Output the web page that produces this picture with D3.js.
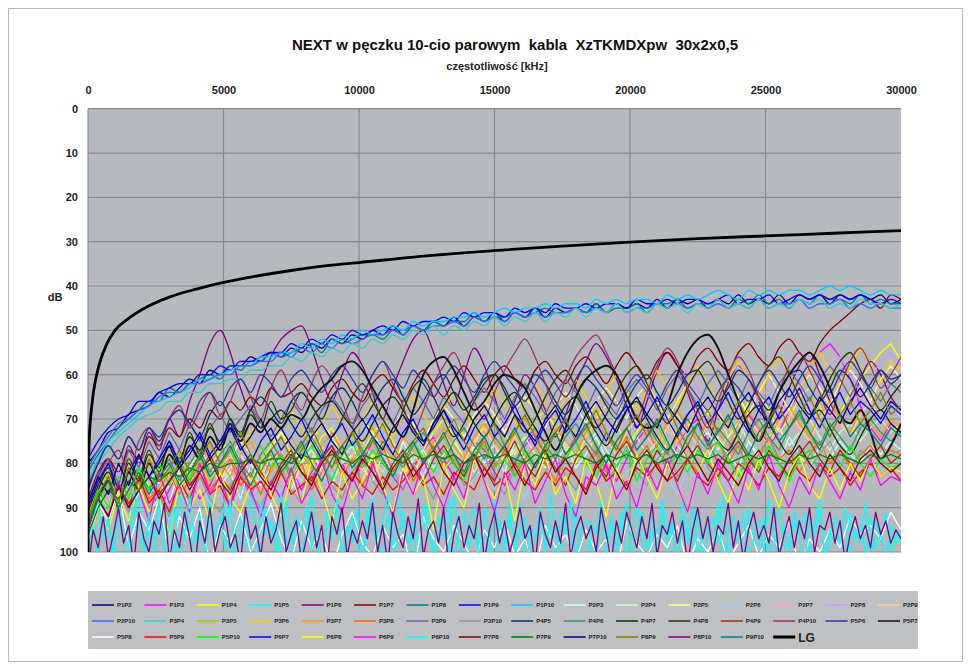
<!DOCTYPE html>
<html>
<head>
<meta charset="utf-8">
<script src="https://cdn.jsdelivr.net/npm/d3@7"></script>
<style>
  body { margin: 0; background: #fff; }
  svg { display: block; }
  text { font-family: "Liberation Sans", Arial, sans-serif; }
</style>
</head>
<body>
<svg id="chart" width="971" height="670"></svg>
<script>
// ---- axis ticks ----
const freqTicks = [0, 5000, 10000, 15000, 20000, 25000, 30000];
const dbTicks = [0, 10, 20, 30, 40, 50, 60, 70, 80, 90, 100];

// ---- measured NEXT (dB), each list sampled evenly over 0..30000 kHz ----
const P1P2  = [80,77,73,72,69,68,67,64,65,63,61,62,59,60,58,58,56,57,55,56,54,55,53,54,52,53,51,52,50,51,49,51,49,50,48,49,47,49,47,48,46,48,46,47,45,47,45,46,45,46,44,46,44,45,44,45,43,45,43,44,43,45,43,44,42,44,43,44,42,44,42,43,42,44,42,43,42,43,42,44,43];
const P1P3  = [96,90,86,91,88,83,85,90,86,81,84,88,85,80,78,83,87,84,79,77,81,86,82,78,76,80,84,80,75,78,83,86,81,77,74,79,83,79,75,77,82,85,80,76,73,78,82,78,74,72,76,81,84,79,75,72,77,81,76,72,70,75,80,77,73,69,72,76,73,68,64,59,55,53,56,61,67,72,75,71,73];
const P1P4  = [94,88,84,89,85,81,84,88,83,79,82,86,81,77,75,80,84,80,76,73,78,82,79,74,72,77,81,78,73,71,75,80,83,77,73,70,74,79,76,71,69,73,78,75,70,68,72,77,80,74,70,67,71,76,73,69,66,70,75,72,67,65,69,74,71,66,64,68,73,70,65,63,67,72,69,64,61,58,55,53,57];
const P1P5  = [98,91,102,87,95,100,89,97,104,92,86,99,94,103,88,96,91,101,85,97,93,105,90,98,87,100,94,89,103,96,91,99,86,95,102,90,97,93,104,88,98,92,101,95,87,99,106,91,96,89,102,94,98,90,105,93,88,97,101,92,99,86,95,103,91,98,94,89,104,96,92,100,87,97,105,93,90,99,95,102,88,96,101,92,98,89,104,94,97,91,100,87,95,103,92,99,90,97,106,93,96,88,101,94,99,91,104,95,89,98,102,92,97,90,100,94,105,88,96,99,91,103,95,92,98,87,101,96,93,104,90,97,99,92,102,95,89,98,105,93,96,91,100,94,88,103,97,92,99,90,101,95,98,89,104,93,97,91,100,96,98];
const P1P6  = [88,82,79,84,76,80,73,77,70,74,66,60,53,50,55,63,68,62,56,52,50,49,54,61,66,60,55,58,64,70,63,57,52,50,55,62,67,60,54,58,65,71,66,60,63,68,74,69,62,57,53,56,61,67,72,66,59,55,58,64,70,75,68,62,58,61,66,72,69,63,58,55,60,66,71,67,61,57,60,65,68];
const P1P7  = [89,83,79,82,77,79,74,76,72,74,70,72,68,70,66,68,65,67,63,65,64,62,65,67,63,61,64,66,62,60,63,66,62,59,62,65,61,58,61,64,60,58,61,63,59,57,60,62,58,56,59,62,58,55,58,61,57,55,58,60,56,54,57,59,55,53,56,58,54,52,55,57,53,50,48,46,44,43,45,42,43];
const P1P8  = [82,78,75,72,70,68,66,66,63,64,62,61,60,61,58,59,57,57,55,56,55,54,53,55,52,53,52,51,51,52,50,50,49,50,48,49,48,48,46,48,47,47,46,47,46,45,46,46,45,46,44,46,45,45,44,46,44,44,43,45,44,44,43,45,43,44,42,44,43,45,43,44,42,43,43,44,42,44,43,44,44];
const P1P9  = [79,75,72,70,69,66,66,64,63,62,62,60,60,58,59,57,57,56,55,55,53,54,52,53,51,52,50,51,50,49,50,48,49,48,48,47,48,46,47,46,46,47,45,46,45,46,44,45,45,44,45,44,44,45,43,44,44,43,44,43,43,44,43,42,44,43,43,42,44,43,42,43,42,43,42,43,42,43,44,43,44];
const P1P10 = [84,79,75,73,71,69,67,66,65,64,63,61,61,60,59,58,58,56,56,55,55,53,54,52,53,51,52,50,51,50,49,50,48,49,48,48,47,47,46,47,46,45,46,45,45,44,45,44,44,45,43,44,43,44,43,43,44,42,43,42,43,42,41,42,43,41,42,41,42,41,41,42,41,40,41,40,41,42,41,42,42];
const P2P3  = [95,88,92,85,90,82,87,84,89,81,86,83,79,85,82,88,80,84,78,83,86,80,77,82,85,79,76,81,84,78,82,75,80,83,77,81,79,84,76,80,78,82,75,79,83,77,80,76,81,78,74,79,82,76,80,77,81,75,78,82,76,79,74,78,81,75,79,77,80,74,78,81,76,79,75,78,80,76,78,75,77];
const P2P4  = [95,89,92,86,90,87,84,88,85,82,86,83,80,84,81,78,82,85,81,79,83,80,77,81,84,80,78,82,79,76,80,83,79,77,81,78,75,79,82,78,76,80,77,74,78,81,77,75,79,76,73,77,80,76,74,78,75,72,76,79,75,73,77,74,71,75,78,74,72,76,73,70,74,77,73,71,75,72,70,73,71];
const P2P5  = [93,87,90,84,88,82,85,80,83,86,81,77,80,84,79,75,78,82,77,73,76,80,75,71,74,78,73,70,73,77,72,68,71,75,70,67,70,74,69,66,69,73,68,65,68,72,67,64,67,71,66,63,66,70,65,62,66,70,66,62,65,69,64,61,65,69,64,60,64,68,63,60,63,67,62,59,62,66,61,58,61];
const P2P6  = [97,90,94,87,92,85,90,88,93,86,91,84,89,87,92,85,88,83,90,86,81,87,84,89,82,86,80,85,88,83,79,84,87,82,86,80,84,89,83,81,86,79,84,88,82,85,80,83,87,81,84,79,86,82,80,85,78,83,87,81,84,79,82,86,80,84,78,83,85,80,82,78,84,81,79,83,80,82,79,81,80];
const P2P7  = [92,86,89,83,87,81,84,88,83,79,82,86,81,78,81,85,80,77,80,84,79,76,79,83,78,75,78,82,77,74,77,81,76,73,76,80,75,72,75,79,74,71,74,78,73,76,79,74,71,74,78,73,70,73,77,72,69,72,76,71,68,71,75,70,67,70,74,69,66,69,73,68,65,68,72,67,64,67,71,66,68];
const P2P8  = [90,85,88,82,86,80,84,78,82,79,76,80,77,73,77,74,70,74,71,67,71,75,72,68,66,70,74,71,67,65,69,73,70,66,64,68,72,69,65,63,67,71,68,64,62,66,70,67,63,61,65,69,66,62,60,64,68,65,61,59,63,67,64,60,58,62,66,63,59,57,61,65,62,58,56,60,64,61,57,55,58];
const P2P9  = [94,88,92,86,90,84,88,85,82,86,83,80,84,81,78,82,79,76,80,77,81,84,79,76,80,83,78,75,79,82,77,74,78,81,76,73,77,80,75,72,76,79,74,77,80,75,72,76,79,74,71,75,78,73,70,74,77,72,69,73,76,71,68,72,75,70,73,76,71,68,72,75,70,67,71,74,69,66,70,73,71];
const P2P10 = [81,77,74,71,70,68,67,65,64,64,62,62,61,60,60,58,58,57,57,55,56,54,55,53,54,52,53,52,51,51,50,51,49,50,49,49,48,49,47,48,47,48,46,47,46,47,46,46,45,46,45,46,44,46,45,45,44,45,44,45,44,45,44,45,44,45,43,45,44,44,43,45,44,44,43,45,44,45,44,45,45];
const P3P4  = [83,80,77,74,72,70,69,68,66,66,64,64,62,62,61,61,59,59,58,58,56,57,55,56,54,55,53,54,52,53,51,52,50,51,49,51,49,50,48,49,47,49,47,48,46,48,46,47,45,47,45,46,44,46,45,46,44,45,44,46,44,45,43,45,44,45,43,45,44,45,43,44,43,45,44,45,43,44,44,45,44];
const P3P5  = [95,89,85,91,87,83,88,85,81,86,83,79,84,81,77,82,86,80,78,83,79,76,81,84,79,76,81,78,75,80,83,78,75,80,77,74,79,82,77,74,79,76,73,78,81,76,73,78,75,72,77,80,75,72,77,74,71,76,79,74,71,76,73,70,75,78,73,70,75,72,69,74,77,72,69,74,71,73,76,72,74];
const P3P6  = [91,86,82,87,80,84,78,82,76,80,77,74,78,75,72,76,73,70,74,71,68,72,76,71,67,71,75,70,66,70,74,69,65,69,73,68,64,68,72,67,63,67,71,66,62,66,70,65,61,65,69,64,60,64,68,63,59,63,67,62,58,62,66,61,57,61,65,60,56,60,64,59,55,59,63,58,54,58,62,57,59];
const P3P7  = [93,88,84,89,82,86,80,84,81,78,82,79,76,80,83,78,75,79,82,77,74,78,81,76,73,77,80,75,72,76,79,74,77,80,75,72,76,79,74,71,75,78,73,70,74,77,72,75,78,73,70,74,77,72,69,73,76,71,68,72,75,70,73,76,71,68,72,75,70,67,71,74,69,66,70,73,68,71,74,70,72];
const P3P8  = [95,88,92,85,90,83,88,86,82,87,84,80,86,83,79,85,82,87,81,78,84,80,86,82,77,83,79,85,81,76,82,78,84,80,76,81,78,83,79,75,81,77,83,79,76,80,84,78,75,80,77,82,78,74,79,76,81,77,74,79,82,77,75,80,76,81,78,74,79,77,82,78,75,80,77,81,78,76,79,77,78];
const P3P9  = [89,83,79,85,77,81,75,79,73,77,71,75,72,69,73,70,67,71,74,70,66,69,73,68,65,68,72,67,64,67,71,66,63,66,70,65,68,71,66,63,66,70,65,62,65,69,64,61,64,68,63,66,69,64,61,64,68,63,60,63,67,62,59,62,66,61,64,67,62,59,62,66,61,58,61,65,60,63,66,62,64];
const P3P10 = [96,89,93,86,91,84,90,87,92,85,89,83,88,91,85,82,87,90,84,81,86,89,83,80,85,88,82,79,84,87,81,86,80,84,88,82,79,85,83,78,84,87,81,79,85,82,77,83,86,80,78,84,81,76,82,85,79,77,83,80,75,81,84,78,76,82,79,74,80,83,77,81,78,75,80,82,77,79,76,78,77];
const P4P5  = [86,80,76,79,74,77,72,75,70,68,71,74,69,66,70,73,68,65,68,71,66,64,67,70,65,63,66,70,67,63,61,65,69,66,62,60,64,68,65,61,60,63,67,64,60,62,66,69,65,61,63,67,70,66,62,60,64,67,64,60,59,63,66,63,59,61,65,68,64,60,59,63,66,63,59,61,65,62,59,61,60];
const P4P6  = [93,87,83,89,84,81,86,82,79,84,80,77,82,78,75,80,83,78,75,79,82,77,74,78,81,76,73,77,80,75,78,81,76,73,77,80,75,72,76,79,74,77,80,75,72,76,79,74,71,75,78,73,76,79,74,71,75,78,73,70,74,77,72,75,78,73,70,74,77,72,69,73,76,71,74,77,72,70,73,75,73];
const P4P7  = [93,86,82,87,80,84,78,81,76,79,74,77,72,75,71,74,69,72,70,68,71,74,70,67,66,69,72,75,71,67,65,68,72,75,71,67,64,67,71,74,70,66,64,68,72,75,71,67,65,69,73,76,72,68,66,70,74,77,73,69,67,71,75,77,73,69,67,71,75,78,74,70,68,72,76,78,74,70,68,71,73];
const P4P8  = [91,85,81,87,79,83,77,82,75,80,73,78,71,76,70,74,68,72,66,70,68,64,67,71,74,70,65,62,66,70,73,68,63,61,65,70,74,71,66,62,60,64,69,73,70,65,61,59,63,68,72,69,64,60,58,62,67,71,68,63,59,57,61,66,70,67,62,58,56,60,65,69,66,61,57,55,59,64,68,65,62];
const P4P9  = [94,88,92,85,89,86,83,87,84,80,85,82,78,83,86,81,78,82,85,80,77,82,84,79,76,81,84,78,82,85,80,77,81,84,79,76,80,83,78,81,84,79,75,80,83,78,81,85,79,76,80,83,78,75,79,82,77,80,84,79,76,80,83,78,75,79,82,77,80,83,78,75,79,82,77,80,83,79,76,80,78];
const P4P10 = [90,84,80,77,82,75,72,76,70,67,72,68,64,69,66,61,65,70,63,59,64,68,62,58,61,66,71,65,60,57,62,67,73,68,62,58,55,60,66,70,64,59,55,52,56,62,67,61,56,53,51,55,60,65,70,64,58,54,57,63,68,72,66,60,56,59,65,70,64,58,55,59,64,69,63,57,54,58,63,60,56];
const P5P6  = [85,80,76,79,74,77,72,74,70,68,71,66,64,67,63,61,64,60,62,65,61,59,62,64,60,58,61,64,60,57,60,63,59,62,65,61,58,61,64,60,57,60,63,66,62,59,62,65,61,58,61,64,67,63,60,63,66,62,59,62,65,68,64,61,63,66,62,59,62,65,61,58,61,64,60,57,60,63,59,62,60];
const P5P7  = [95,88,84,90,82,86,80,84,78,81,76,79,74,77,72,75,71,73,70,72,69,70,66,63,61,58,57,59,63,67,71,74,68,60,57,56,59,64,68,66,62,60,61,63,68,73,77,72,65,61,59,58,60,65,70,72,71,67,60,55,52,51,54,60,66,72,75,70,64,60,57,55,58,63,69,71,68,73,79,76,71];
const P5P8  = [96,89,93,86,99,91,95,88,101,92,97,90,103,94,98,91,100,95,89,97,102,93,99,95,104,96,91,98,101,94,99,96,105,92,97,100,94,98,103,95,99,93,101,97,104,94,99,96,102,95,100,97,104,93,98,101,96,99,94,103,97,100,95,102,98,94,101,96,99,93,104,97,100,95,99,92,96,94,97,91,95];
const P5P9  = [94,88,92,85,90,83,89,86,91,84,88,82,87,85,90,83,86,84,88,82,87,85,83,88,84,86,82,85,87,83,86,84,81,85,83,87,82,84,86,81,85,83,80,84,86,82,85,81,83,86,80,84,82,85,81,83,80,84,82,79,83,85,81,84,80,82,85,81,83,79,82,84,80,83,81,85,82,80,83,81,84];
const P5P10 = [93,86,90,83,88,81,86,80,85,79,84,78,83,80,77,82,79,76,81,78,83,79,76,80,84,78,75,81,77,80,83,78,75,79,82,77,80,84,78,76,81,79,83,77,80,76,82,79,75,80,83,78,81,77,84,79,76,81,78,82,77,80,75,79,83,78,81,76,80,84,79,77,82,78,81,76,80,83,79,81,80];
const P6P7  = [90,84,80,86,82,78,83,79,75,80,77,73,78,75,71,76,80,75,72,77,74,70,75,79,74,71,76,73,69,74,78,73,70,75,72,68,73,77,72,69,74,71,67,72,76,71,68,73,70,66,71,75,70,67,72,69,65,70,74,69,66,71,68,64,69,73,68,65,70,67,63,68,72,67,64,69,66,68,71,67,69];
const P6P8  = [98,90,95,87,93,85,91,88,96,84,90,86,93,82,88,91,85,80,87,92,83,89,79,86,94,82,88,84,78,85,91,81,87,83,95,80,86,90,79,84,88,82,93,80,85,78,87,83,89,79,84,92,81,86,78,83,88,80,85,91,82,77,84,89,81,86,79,84,90,82,78,85,88,81,86,80,84,79,83,81,82];
const P6P9  = [95,88,92,84,90,86,93,82,89,85,91,80,87,83,90,79,86,92,84,88,81,89,85,79,87,91,83,88,80,86,92,82,87,79,85,90,83,88,78,84,91,82,86,80,89,84,79,87,92,83,85,80,88,84,90,81,86,79,85,91,82,87,80,84,89,81,86,78,85,90,83,87,80,84,88,82,86,79,85,83,84];
const P6P10 = [101,93,88,97,92,104,89,95,99,86,94,102,91,97,88,100,95,90,103,96,87,98,93,105,90,97,92,99,88,102,95,91,98,104,89,96,93,100,87,97,103,92,95,90,99,94,106,91,97,88,101,96,92,98,104,90,95,99,93,87,102,97,91,98,94,105,89,96,100,92,97,88,103,95,91,99,94,101,90,96,104,93,98,89,100,95,92,102,97,90,99,94,105,91,96,88,101,95,93,98,104,90,97,92,100,94,89,103,96,91,99,95,102,88,97,93,105,92,98,90,101,96,94,99,89,104,95,92,98,91,102,97,93,100,88,96,105,94,99,91,97,103,92,96,90,101,95,98,93,104,91,97,94,100,92,99,96,102,94,98,95];
const P7P8  = [94,88,92,85,90,86,83,88,84,81,86,82,79,84,87,82,79,83,86,81,78,82,85,80,77,81,84,79,82,86,81,78,83,80,77,82,85,80,78,83,79,76,81,85,80,77,82,79,83,87,81,78,82,86,80,77,81,84,79,76,80,84,79,82,85,80,77,81,84,79,76,80,83,78,81,84,79,77,80,82,80];
const P7P9  = [96,90,86,88,84,86,83,84,82,83,81,82,80,81,80,80,79,80,79,79,80,78,79,79,78,79,80,78,79,78,79,80,78,79,78,79,78,80,79,78,79,78,79,80,78,79,78,79,78,79,80,78,79,78,79,78,80,79,78,79,78,79,78,80,79,78,79,78,79,80,78,79,78,79,78,79,80,78,79,78,79];
const P7P10 = [89,83,87,80,85,78,83,80,76,81,78,74,79,76,72,77,74,70,75,72,76,79,74,71,75,78,73,70,74,77,72,69,73,76,71,68,72,75,70,67,71,74,69,72,75,70,67,71,74,69,66,70,73,68,65,69,72,67,70,73,68,65,69,72,67,64,68,71,66,63,67,70,65,68,71,66,63,67,70,66,68];
const P8P9  = [93,87,83,89,81,86,79,84,81,77,82,79,75,80,77,73,78,82,77,74,79,76,72,77,81,76,73,78,75,71,76,80,75,72,77,74,70,75,79,74,71,76,73,69,74,78,73,70,75,72,68,73,77,72,69,74,71,67,72,76,71,68,73,70,66,71,75,70,67,72,69,65,70,74,69,66,71,68,64,69,67];
const P8P10 = [104,95,99,92,101,96,90,98,94,103,91,97,100,93,96,89,102,95,99,91,97,104,93,98,90,100,95,92,99,96,103,90,97,94,101,92,98,95,89,100,96,93,102,97,91,99,94,104,92,96,90,101,95,98,93,97,89,100,94,103,91,96,99,92,97,88,101,95,93,98,90,104,96,92,99,94,97,89,102,95,91,98,93,100,96,90,97,94,103,91,96,99,93,98,89,101,95,92,97,94,100,90,96,102,93,98,91,95,99,92,97,89,101,94,96,91,98,93,103,95,90,97,92,100,94,96,89,99,93,102,95,91,97,94,98,90,101,96,92,99,93,97,90,100,94,95,91,98,93,102,96,92,97,94,99,91,96,93,98,95,97];
const P9P10 = [94,88,84,90,86,82,87,83,80,85,82,78,83,80,76,81,85,80,77,82,79,75,80,84,79,76,81,78,74,79,83,78,75,80,77,73,78,82,77,74,79,76,72,77,81,76,73,78,75,71,76,80,75,72,77,74,70,75,79,74,71,76,73,69,74,78,73,70,75,72,68,73,77,72,69,74,71,73,76,72,74];

// ---- limit curve LG: [frequency kHz, dB] ----
const lgFreq = [3, 10, 25, 50, 100, 200, 400, 700, 1000, 1500, 2000, 3000, 4000, 5000, 6000, 7500, 9000, 10000, 12500, 15000, 17500, 20000, 22500, 25000, 27500, 30000];
const lgDb   = [100, 85, 79, 74, 69.5, 64, 58, 53, 50, 47.3, 45.3, 42.5, 40.7, 39.2, 38, 36.5, 35.3, 34.7, 33.2, 32, 31, 30.1, 29.3, 28.7, 28.1, 27.5];

const pairNames = ["P1P2","P1P3","P1P4","P1P5","P1P6","P1P7","P1P8","P1P9","P1P10",
  "P2P3","P2P4","P2P5","P2P6","P2P7","P2P8","P2P9","P2P10",
  "P3P4","P3P5","P3P6","P3P7","P3P8","P3P9","P3P10",
  "P4P5","P4P6","P4P7","P4P8","P4P9","P4P10",
  "P5P6","P5P7","P5P8","P5P9","P5P10",
  "P6P7","P6P8","P6P9","P6P10",
  "P7P8","P7P9","P7P10",
  "P8P9","P8P10","P9P10"];
const pairValues = [P1P2,P1P3,P1P4,P1P5,P1P6,P1P7,P1P8,P1P9,P1P10,
  P2P3,P2P4,P2P5,P2P6,P2P7,P2P8,P2P9,P2P10,
  P3P4,P3P5,P3P6,P3P7,P3P8,P3P9,P3P10,
  P4P5,P4P6,P4P7,P4P8,P4P9,P4P10,
  P5P6,P5P7,P5P8,P5P9,P5P10,
  P6P7,P6P8,P6P9,P6P10,
  P7P8,P7P9,P7P10,
  P8P9,P8P10,P9P10];
const pairColors = ["#000080","#ff00ff","#ffff00","#00ffff","#800080","#800000","#008080","#0000ff","#00ccff",
  "#ccffff","#ccffcc","#ffff99","#99ccff","#ff99cc","#cc99ff","#ffcc99","#3366ff",
  "#33cccc","#99cc00","#ffcc00","#ff9900","#ff6600","#666699","#969696",
  "#003366","#339966","#003300","#333300","#993300","#993366",
  "#333399","#111111","#ffffff","#ff0000","#00ff00",
  "#0000ff","#ffff00","#ff00ff","#00ffff",
  "#800000","#008000","#000080",
  "#808000","#800080","#008080"];
// the strongest couplings vary slowly and are drawn as smooth curves; all others as raw polylines
const smoothPairs = new Set(["P1P2","P1P8","P1P9","P1P10","P2P10","P3P4",
  "P1P6","P1P7","P4P5","P4P7","P4P8","P4P10","P5P6","P5P7"]);

// ---- layout ----
const svg = d3.select("#chart");
const plot = { left: 88, right: 901, top: 108.7, bottom: 552 };
const x = d3.scaleLinear().domain([0, 30000]).range([plot.left, plot.right]);
const y = d3.scaleLinear().domain([0, 100]).range([plot.top, plot.bottom]);

// chart frame
svg.append("rect").attr("x", 8.5).attr("y", 8.5).attr("width", 954).attr("height", 653)
  .attr("fill", "#fff").attr("stroke", "#b8b8b8");

// titles
svg.append("text").attr("x", 515).attr("y", 50).attr("text-anchor", "middle")
  .style("white-space", "pre").attr("font-size", 15).attr("font-weight", "bold").attr("fill", "#111")
  .text("NEXT w pęczku 10-cio parowym  kabla  XzTKMDXpw  30x2x0,5");
svg.append("text").attr("x", 497).attr("y", 70).attr("text-anchor", "middle")
  .attr("font-size", 11).attr("font-weight", "bold").attr("fill", "#222")
  .text("częstotliwość [kHz]");

// plot background
svg.append("rect").attr("x", plot.left).attr("y", plot.top)
  .attr("width", plot.right - plot.left).attr("height", plot.bottom - plot.top)
  .attr("fill", "#b6b9be");

// gridlines
const grid = svg.append("g").attr("stroke", "#878a8f").attr("stroke-width", 1.2);
grid.selectAll("line.h").data(dbTicks).join("line").attr("class", "h")
  .attr("x1", plot.left).attr("x2", plot.right).attr("y1", d => y(d)).attr("y2", d => y(d));
grid.selectAll("line.v").data(freqTicks.filter(d => d < 30000)).join("line").attr("class", "v")
  .attr("y1", plot.top).attr("y2", plot.bottom).attr("x1", d => x(d)).attr("x2", d => x(d));

// axes: frequency on top, dB on the left (0 at top)
const xAxis = svg.append("g").attr("transform", `translate(0,${plot.top})`)
  .call(d3.axisTop(x).tickValues(freqTicks).tickSize(0).tickPadding(15).tickFormat(d3.format("d")));
const yAxis = svg.append("g").attr("transform", `translate(${plot.left},0)`)
  .call(d3.axisLeft(y).tickValues(dbTicks).tickSize(0).tickPadding(10).tickFormat(d3.format("d")));
[xAxis, yAxis].forEach(g => {
  g.select(".domain").remove();
  g.selectAll("text").attr("font-size", 11).attr("font-weight", "bold").attr("fill", "#222")
    .attr("font-family", "Liberation Sans, Arial, sans-serif");
});
svg.append("text").attr("x", 55).attr("y", 301).attr("text-anchor", "middle")
  .attr("font-size", 11).attr("font-weight", "bold").attr("fill", "#222").text("dB");

// series
svg.append("clipPath").attr("id", "plotClip").append("rect")
  .attr("x", plot.left).attr("y", plot.top)
  .attr("width", plot.right - plot.left).attr("height", plot.bottom - plot.top);
const lines = svg.append("g").attr("clip-path", "url(#plotClip)").attr("fill", "none");

const seriesLine = (vals, smooth) => d3.line()
  .curve(smooth ? d3.curveMonotoneX : d3.curveLinear)
  .x((d, i) => x(i * 30000 / (vals.length - 1)))
  .y(d => y(d))(vals);

pairValues.forEach((vals, k) => {
  lines.append("path").attr("d", seriesLine(vals, smoothPairs.has(pairNames[k])))
    .attr("stroke", pairColors[k]).attr("stroke-width", pairNames[k] === "P5P7" ? 1.9 : 1.3)
    .attr("stroke-linejoin", "round");
});

const lgPoints = lgFreq.map((f, i) => [f, lgDb[i]]);
lines.append("path")
  .attr("d", d3.line().curve(d3.curveMonotoneX).x(d => x(d[0])).y(d => y(d[1]))(lgPoints))
  .attr("stroke", "#000").attr("stroke-width", 2.8);

// legend
const legendItems = pairNames.map((n, k) => ({ name: n, color: pairColors[k], lg: false }))
  .concat([{ name: "LG", color: "#000", lg: true }]);
const legend = svg.append("g");
legend.append("rect").attr("x", 88).attr("y", 591).attr("width", 830).attr("height", 58)
  .attr("fill", "#bec0c3");
const cols = 16, pitch = 52.4, rowY = [605, 621, 637];
legendItems.forEach((it, k) => {
  const cx = 92 + (k % cols) * pitch, cy = rowY[Math.floor(k / cols)];
  legend.append("line").attr("x1", cx).attr("x2", cx + 22).attr("y1", cy).attr("y2", cy)
    .attr("stroke", it.color).attr("stroke-width", it.lg ? 3 : 1.5);
  legend.append("text").attr("x", cx + 25).attr("y", cy + (it.lg ? 4.5 : 2.2))
    .attr("font-size", it.lg ? 12 : 6).attr("font-weight", "bold").attr("fill", "#222")
    .text(it.name);
});
</script>
</body>
</html>
